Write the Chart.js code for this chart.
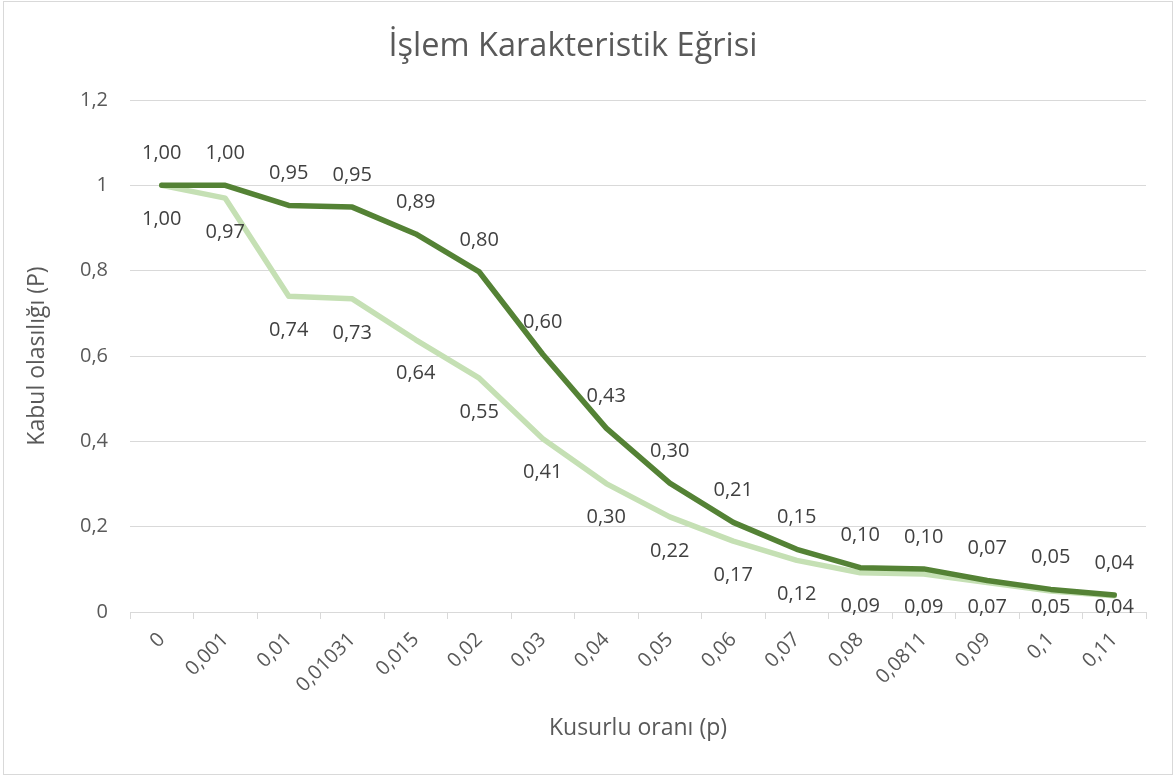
<!DOCTYPE html>
<html>
<head>
<meta charset="utf-8">
<script src="https://cdn.jsdelivr.net/npm/chart.js@4"></script>
<style>
  html, body { margin: 0; padding: 0; background: #fff; }
  #wrap { width: 1176px; height: 778px; position: relative; }
</style>
</head>
<body>
<div id="wrap"><canvas id="ocChart"></canvas></div>
<script>
// kusurlu oranı (p) kategorileri
const categories = ['0', '0,001', '0,01', '0,01031', '0,015', '0,02', '0,03', '0,04', '0,05', '0,06', '0,07', '0,08', '0,0811', '0,09', '0,1', '0,11'];
// kabul olasılıkları
const darkSeries = [1.00, 1.00, 0.953, 0.949, 0.886, 0.797, 0.604, 0.431, 0.302, 0.210, 0.147, 0.104, 0.101, 0.074, 0.053, 0.040];
const lightSeries = [1.00, 0.970, 0.740, 0.734, 0.638, 0.548, 0.406, 0.301, 0.223, 0.166, 0.121, 0.092, 0.089, 0.069, 0.049, 0.038];
const yTicks = [0, 0.2, 0.4, 0.6, 0.8, 1, 1.2];

const FONT = "'Open Sans', 'Noto Sans', sans-serif";
const TEXT = '#595959';

function fmt(v) {
    return v.toFixed(2).replace('.', ',');
}

// Excel tarzı veri etiketleri: koyu seri üstte, açık seri altta
const valueLabels = {
    id: 'valueLabels',
    afterDatasetsDraw(chart) {
        const ctx = chart.ctx;
        const bottom = chart.chartArea.bottom;
        ctx.save();
        ctx.font = '20px ' + FONT;
        ctx.fillStyle = '#404040';
        ctx.textAlign = 'center';
        ctx.textBaseline = 'middle';
        chart.data.datasets.forEach((ds, i) => {
            const meta = chart.getDatasetMeta(i);
            meta.data.forEach((pt, j) => {
                let y = i === 0 ? pt.y - 32 : pt.y + 34;
                // alt sınırın dışına taşmasın
                if (y > bottom - 5) y = bottom - 5;
                ctx.fillText(fmt(ds.data[j]), pt.x, y);
            });
        });
        ctx.restore();
    }
};

const frame = {
    id: 'frame',
    beforeDraw(chart) {
        const ctx = chart.ctx;
        ctx.save();
        ctx.fillStyle = '#fff';
        ctx.fillRect(0, 0, chart.width, chart.height);
        ctx.strokeStyle = '#d9d9d9';
        ctx.lineWidth = 1;
        ctx.strokeRect(3.5, 1.5, chart.width - 7, chart.height - 5);
        ctx.restore();
    }
};

const ctx = document.getElementById('ocChart').getContext('2d');
new Chart(ctx, {
    type: 'line',
    data: {
        labels: categories,
        datasets: [
            {
                label: 'Seri 1',
                data: darkSeries,
                borderColor: '#548235',
                borderWidth: 5.5,
                pointRadius: 0,
                tension: 0,
                borderJoinStyle: 'round',
                borderCapStyle: 'round'
            },
            {
                label: 'Seri 2',
                data: lightSeries,
                borderColor: '#c5e0b4',
                borderWidth: 5.5,
                pointRadius: 0,
                tension: 0,
                borderJoinStyle: 'round',
                borderCapStyle: 'round'
            }
        ]
    },
    options: {
        responsive: true,
        maintainAspectRatio: false,
        animation: false,
        layout: { padding: { left: 0, right: 30, top: 0, bottom: 0 } },
        plugins: {
            legend: { display: false },
            tooltip: { enabled: false },
            title: {
                display: true,
                text: 'İşlem Karakteristik Eğrisi',
                color: TEXT,
                font: { family: FONT, size: 32.5, weight: 'normal' },
                padding: { top: 27, bottom: 34 }
            }
        },
        scales: {
            x: {
                type: 'category',
                offset: true,
                grid: {
                    offset: true,
                    drawOnChartArea: false,
                    drawTicks: true,
                    tickLength: 7,
                    color: '#d9d9d9'
                },
                border: { color: '#d9d9d9', width: 1 },
                ticks: {
                    color: TEXT,
                    font: { family: FONT, size: 20 },
                    minRotation: 45,
                    maxRotation: 45,
                    autoSkip: false,
                    padding: 9
                },
                title: {
                    display: true,
                    text: 'Kusurlu oranı (p)',
                    color: TEXT,
                    font: { family: FONT, size: 23 },
                    padding: { top: 0, bottom: 36 }
                },
                afterFit(scale) { scale.height = 166; }
            },
            y: {
                min: 0,
                max: 1.2,
                afterBuildTicks(scale) {
                    scale.ticks = yTicks.map(v => ({ value: v }));
                },
                grid: { color: '#d9d9d9', drawTicks: false },
                border: { display: false },
                ticks: {
                    color: TEXT,
                    font: { family: FONT, size: 20 },
                    padding: 22,
                    callback: v => String(v).replace('.', ',')
                },
                title: {
                    display: true,
                    text: 'Kabul olasılığı (P)',
                    color: TEXT,
                    font: { family: FONT, size: 23 },
                    padding: { top: 24, bottom: 0 }
                },
                afterFit(scale) { scale.width = 130; }
            }
        }
    },
    plugins: [frame, valueLabels]
});
</script>
</body>
</html>
